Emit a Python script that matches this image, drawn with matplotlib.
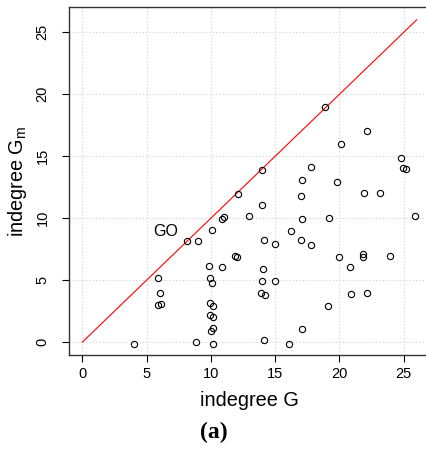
import matplotlib
matplotlib.use("Agg")
import matplotlib.pyplot as plt

plt.rcParams['font.family'] = ['Liberation Sans', 'DejaVu Sans']

# indegree in G (x) vs indegree in G_m (y), one point per node
indeg_g = [4.0, 5.86, 6.01, 5.86, 6.09, 8.13, 8.96, 8.81, 10.08, 9.82,
           10.88, 9.9, 10.1, 9.9, 10.18, 9.9, 10.16, 10.18, 10.03, 10.13,
           10.86, 10.99, 11.89, 12.0, 12.07, 13.94, 18.86, 17.09, 17.82, 19.79,
           20.15, 22.15, 24.82, 24.94, 25.15, 21.94, 23.13, 16.97, 13.96, 12.95,
           17.05, 19.15, 25.85, 16.19, 14.12, 16.99, 15.0, 17.8, 19.97, 21.83,
           21.83, 23.93, 20.85, 14.02, 13.94, 14.95, 13.91, 14.17, 20.93, 22.17,
           19.07, 17.12, 14.14, 16.11]
indeg_gm = [-0.15, 5.14, 3.95, 3.01, 3.1, 8.15, 8.15, 0.03, 9.06, 6.1,
            6.08, 5.19, 4.79, 3.18, 2.88, 2.21, 1.99, 1.13, 0.89, -0.16,
            9.95, 10.08, 6.97, 6.85, 11.91, 13.87, 19.0, 13.04, 14.09, 12.88,
            15.97, 17.07, 14.84, 14.03, 14.0, 12.02, 12.02, 11.8, 11.05, 10.19,
            9.92, 10.03, 10.14, 9.0, 8.2, 8.2, 7.88, 7.82, 6.85, 7.1,
            6.89, 6.94, 6.08, 5.86, 4.92, 4.95, 3.95, 3.82, 3.9, 3.98,
            2.93, 1.08, 0.19, -0.13]

# y = x reference line
diag = [0, 26]
ticks = [0, 5, 10, 15, 20, 25]

fig = plt.figure(figsize=(4.27, 4.49), dpi=100)
ax = fig.add_axes([0.1616, 0.2094, 0.8454, 0.775])

ax.plot(diag, diag, color='red', lw=0.8, zorder=2)
ax.plot(indeg_g, indeg_gm, linestyle='none', marker='o', ms=4.5,
        mfc='none', mec='black', mew=0.8, zorder=3)
ax.text(6.5, 8.95, 'GO', fontsize=11.5, ha='center', va='center')

ax.set_xlim(-1.04, 27.04)
ax.set_ylim(-1.04, 27.04)
ax.set_xticks(ticks)
ax.set_yticks(ticks)
ax.grid(True, color='#d0d0d0', linestyle=(0, (1, 2)), lw=0.8)
ax.tick_params(direction='out', length=5, width=0.8, labelsize=10.5)
ax.tick_params(axis='x', pad=4)
ax.tick_params(axis='y', pad=9)
for lab in ax.get_yticklabels():
    lab.set_rotation(90)
    lab.set_va('center')
for sp in ax.spines.values():
    sp.set_linewidth(1.0)
    sp.set_color('#333333')

ax.set_xlabel('indegree G', fontsize=14.3, labelpad=7)
ax.set_ylabel(r'indegree G$_\mathregular{m}$', fontsize=14.3, labelpad=5)

fig.text(0.5, 1 - 432 / 449, '(a)', fontsize=17, fontweight='bold',
         family=['Liberation Serif', 'DejaVu Serif'], ha='center', va='center')

fig.savefig('out.png', dpi=100)
